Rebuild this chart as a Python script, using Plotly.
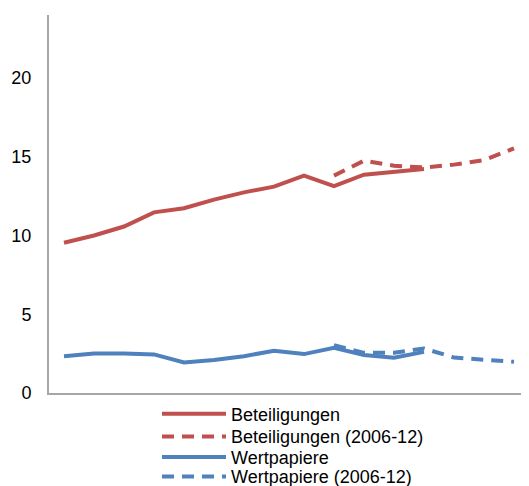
import plotly.graph_objects as go

x_idx = list(range(16))
beteiligungen = [9.54, 10.0, 10.57, 11.47, 11.73, 12.28, 12.74, 13.1, 13.8, 13.14, 13.86, 14.07, 14.22]
beteiligungen_0612 = [None]*9 + [13.8, 14.75, 14.43, 14.32, 14.5, 14.79, 15.53]
wertpapiere = [2.34, 2.51, 2.51, 2.45, 1.94, 2.09, 2.34, 2.68, 2.47, 2.87, 2.41, 2.24, 2.61]
wertpapiere_0612 = [None]*9 + [3.04, 2.55, 2.55, 2.83, 2.25, 2.13, 1.98]
y_ticks = [0, 5, 10, 15, 20]

RED = "#C0504D"
BLUE = "#4F81BD"
DASH = "12px,8px"

fig = go.Figure()
fig.add_trace(go.Scatter(x=x_idx[:len(beteiligungen)], y=beteiligungen, mode="lines",
                         name="Beteiligungen", line=dict(color=RED, width=4), legend="legend"))
fig.add_trace(go.Scatter(x=x_idx, y=beteiligungen_0612, mode="lines",
                         name="Beteiligungen (2006-12)", line=dict(color=RED, width=4, dash=DASH),
                         legend="legend2"))
fig.add_trace(go.Scatter(x=x_idx[:len(wertpapiere)], y=wertpapiere, mode="lines",
                         name="Wertpapiere", line=dict(color=BLUE, width=4), legend="legend3"))
fig.add_trace(go.Scatter(x=x_idx, y=wertpapiere_0612, mode="lines",
                         name="Wertpapiere (2006-12)", line=dict(color=BLUE, width=4, dash=DASH),
                         legend="legend4"))

def leg(ypos):
    return dict(x=0.225, y=ypos, xanchor="left", yanchor="middle",
                orientation="v", itemwidth=64, font=dict(size=18),
                bgcolor="rgba(0,0,0,0)", borderwidth=0)

# page body has an 8px default margin; the figure is sized so it ends at the window edge
fig.update_layout(
    width=521, height=478,
    margin=dict(l=41, r=0, t=7, b=93, autoexpand=False),
    plot_bgcolor="white", paper_bgcolor="white",
    font=dict(family="Liberation Sans, Arial", size=18, color="#000000"),
    showlegend=True,
    legend=leg(-0.0556),
    legend2=leg(-0.1156),
    legend3=leg(-0.170),
    legend4=leg(-0.2214),
    xaxis=dict(range=[-0.5, 15.5], showticklabels=False, showgrid=False, zeroline=False,
               showline=True, linecolor="#A6A6A6", linewidth=2, ticks="", automargin=False),
    yaxis=dict(range=[0, 24], tickvals=y_ticks, showgrid=False, zeroline=False,
               showline=True, linecolor="#A6A6A6", linewidth=2, ticks="",
               ticklabelstandoff=12, automargin=False),
)

fig.write_html("out.html")
